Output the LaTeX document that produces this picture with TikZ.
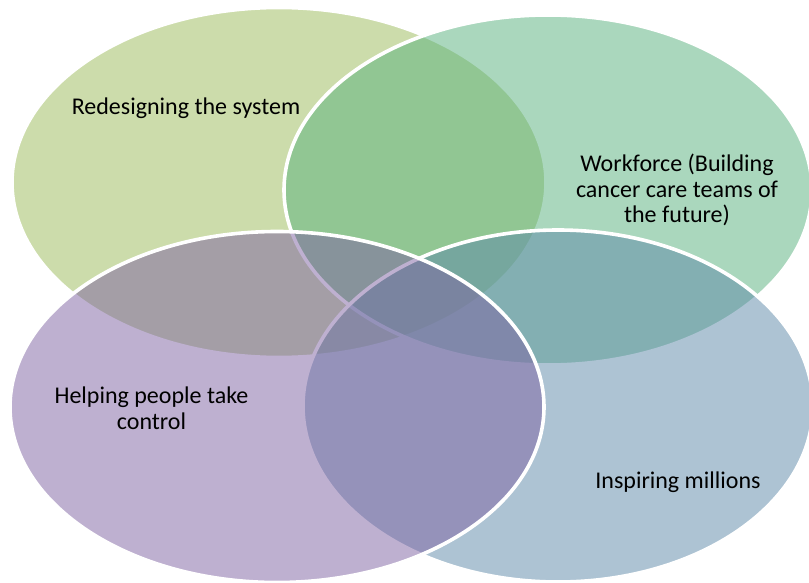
\documentclass[tikz,border=0pt]{standalone}
\usepackage{fontspec}
\setmainfont{Carlito}
\usetikzlibrary{shapes.geometric}
\definecolor{cA}{RGB}{155,186,89}
\definecolor{cB}{RGB}{87,177,125}
\definecolor{cC}{RGB}{126,98,163}
\definecolor{cD}{RGB}{93,137,169}
\tikzset{
  venn/.style={ellipse, inner sep=0pt, draw=white, line width=3.6pt, fill opacity=0.5, draw opacity=1},
  lbl/.style={align=center, text=black, font=\fontsize{24}{25.5}\selectfont, inner sep=0pt}
}
\begin{document}
\begin{tikzpicture}[x=1pt,y=-1pt]
\useasboundingbox (0,0) rectangle (809,583);
\fill[white] (0,0) rectangle (809,583);
\node[venn, fill=cA, minimum width=534pt, minimum height=350pt] (e1) at (279,182.5) {};
\node[venn, fill=cB, minimum width=528pt, minimum height=350pt] (e2) at (548,190) {};
\node[venn, fill=cD, minimum width=510pt, minimum height=352pt] (e4) at (558,406) {};
\node[venn, fill=cC, minimum width=534pt, minimum height=351pt] (e3) at (277,407) {};
\node[lbl] (t1) at (186,108) {Redesigning the system};
\node[lbl] (t2) at (677,190) {Workforce (Building\\cancer care teams of\\the future)};
\node[lbl] (t3) at (151.5,408.5) {Helping people take\\control};
\node[lbl] (t4) at (678,482) {Inspiring millions};
\end{tikzpicture}
\end{document}
